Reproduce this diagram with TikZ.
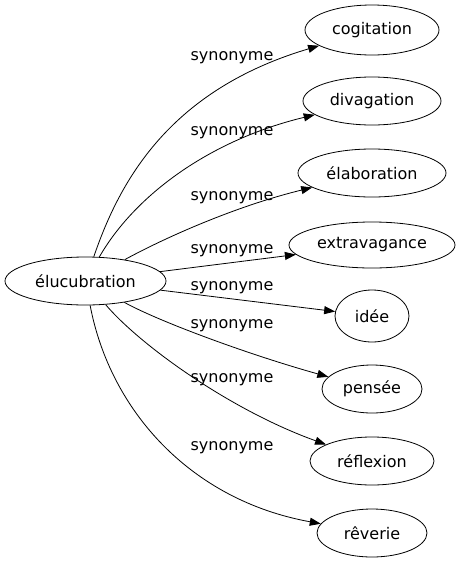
\documentclass[tikz,border=0pt]{standalone}
\usepackage{fontspec}
\setmainfont{DejaVu Sans}
\usetikzlibrary{shapes.geometric,arrows.meta}
\begin{document}
\begin{tikzpicture}[x=1pt,y=-1pt,
  word/.style={draw, ellipse, inner sep=0pt, line width=0.8pt, font=\fontsize{16}{18}\selectfont},
  lbl/.style={anchor=base, inner sep=0pt, font=\fontsize{16}{18}\selectfont},
  link/.style={line width=0.8pt, -{Triangle[length=11pt,width=8pt]}}]
\useasboundingbox (0,0) rectangle (461,563);
\node[word, minimum width=161pt, minimum height=48pt] (e) at (85.5,281) {élucubration};
\node[word, minimum width=134pt, minimum height=50pt] (c) at (372,30) {cogitation};
\node[word, minimum width=138pt, minimum height=48pt] (d) at (372,101) {divagation};
\node[word, minimum width=148pt, minimum height=48pt] (el) at (372,173) {élaboration};
\node[word, minimum width=166pt, minimum height=46pt] (x) at (372,245) {extravagance};
\node[word, minimum width=74pt, minimum height=52pt] (i) at (372,316) {idée};
\node[word, minimum width=100pt, minimum height=48pt] (p) at (372,389) {pensée};
\node[word, minimum width=124pt, minimum height=48pt] (r) at (372,461) {réflexion};
\node[word, minimum width=110pt, minimum height=48pt] (rv) at (372,533) {rêverie};

\draw[link] (e) .. controls (120,180) and (170,90) .. (c);
\draw[link] (e) .. controls (135,195) and (210,140) .. (d);
\draw[link] (e) .. controls (170,235) and (240,205) .. (el);
\draw[link] (e) -- (x);
\draw[link] (e) -- (i);
\draw[link] (e) .. controls (160,322) and (250,355) .. (p);
\draw[link] (e) .. controls (140,345) and (230,410) .. (r);
\draw[link] (e) .. controls (110,410) and (190,500) .. (rv);

\node[lbl] (l1) at (232,60) {synonyme};
\node[lbl] (l2) at (232,135) {synonyme};
\node[lbl] (l3) at (232,200) {synonyme};
\node[lbl] (l4) at (232,253) {synonyme};
\node[lbl] (l5) at (232,290) {synonyme};
\node[lbl] (l6) at (232,328) {synonyme};
\node[lbl] (l7) at (232,382) {synonyme};
\node[lbl] (l8) at (232,450) {synonyme};
\end{tikzpicture}
\end{document}
